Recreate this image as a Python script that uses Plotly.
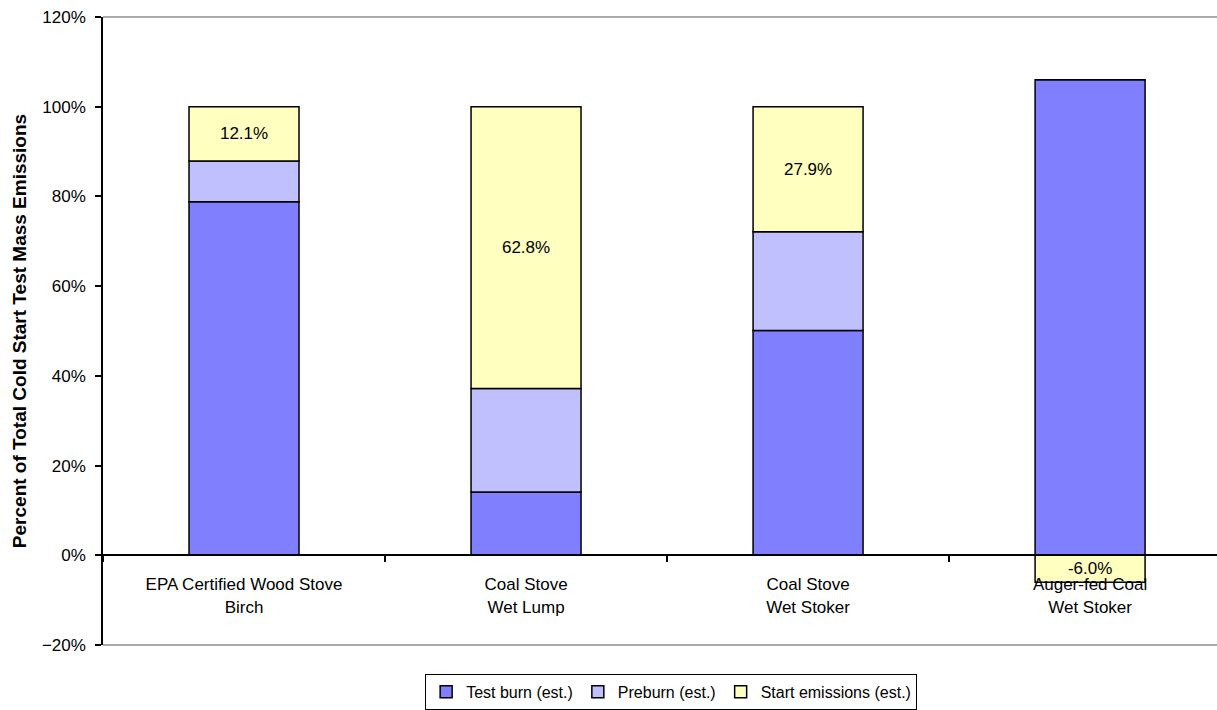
import plotly.graph_objects as go

# Categories (two-line labels) and stacked shares, in percent
categories = [
    "EPA Certified Wood Stove<br>Birch",
    "Coal Stove<br>Wet Lump",
    "Coal Stove<br>Wet Stoker",
    "Auger-fed Coal<br>Wet Stoker",
]
test_burn = [78.8, 14.1, 50.1, 106.0]
preburn = [9.1, 23.1, 22.0, 0.0]
start_emissions = [12.1, 62.8, 27.9, -6.0]

series_names = ["Test burn (est.)", "Preburn (est.)", "Start emissions (est.)"]
series_colors = ["#8080FF", "#C0C0FF", "#FFFFC0"]

font_family = "Liberation Sans, Arial, sans-serif"

fig = go.Figure()
for name, vals, color in zip(series_names, [test_burn, preburn, start_emissions], series_colors):
    is_start = name.startswith("Start")
    fig.add_trace(go.Bar(
        x=categories,
        y=vals,
        name=name,
        width=0.39,
        marker=dict(color=color, line=dict(color="#000000", width=1.5)),
        text=[f"{v:.1f}%" for v in vals] if is_start else None,
        textposition="inside" if is_start else "none",
        insidetextanchor="middle",
        textangle=0,
        constraintext="none",
        textfont=dict(family=font_family, size=17, color="#000000"),
        hoverinfo="skip",
    ))

y_min, y_max = -20, 120
zero_frac = (0 - y_min) / (y_max - y_min)

fig.update_layout(
    barmode="relative",
    width=1217,
    height=710,
    margin=dict(l=103, r=0, t=17, b=63),
    paper_bgcolor="white",
    plot_bgcolor="white",
    font=dict(family=font_family, size=17, color="#000000"),
    showlegend=True,
    legend=dict(
        orientation="h",
        x=0.51,
        xanchor="center",
        y=-0.046,
        yanchor="top",
        bordercolor="#000000",
        borderwidth=1,
        font=dict(size=16),
        itemwidth=30,
        tracegroupgap=0,
    ),
    xaxis=dict(
        type="category",
        range=[-0.5, 3.45],
        anchor="free",
        position=zero_frac,
        showline=True,
        linecolor="#000000",
        linewidth=1.5,
        ticks="outside",
        tickson="boundaries",
        ticklen=6,
        tickcolor="#000000",
        tickwidth=1.5,
        ticklabelstandoff=14,
        showgrid=False,
        zeroline=False,
        tickfont=dict(size=17),
    ),
    yaxis=dict(
        range=[y_min, y_max],
        tick0=-20,
        dtick=20,
        ticksuffix="%",
        showline=True,
        linecolor="#000000",
        linewidth=1.5,
        ticks="outside",
        ticklen=6,
        tickcolor="#000000",
        tickwidth=1.5,
        ticklabelstandoff=6,
        showgrid=False,
        zeroline=False,
        tickfont=dict(size=17),
        title=dict(
            text="<b>Percent of Total Cold Start Test Mass Emissions</b>",
            font=dict(size=19),
            standoff=10,
        ),
    ),
)

# Plot-area frame lines along the top and bottom edges
for yy in (0, 1):
    fig.add_shape(
        type="line", xref="paper", yref="paper",
        x0=0, x1=1, y0=yy, y1=yy,
        line=dict(color="#8C8C8C", width=1.5),
        layer="below",
    )

fig.write_html("out.html")
